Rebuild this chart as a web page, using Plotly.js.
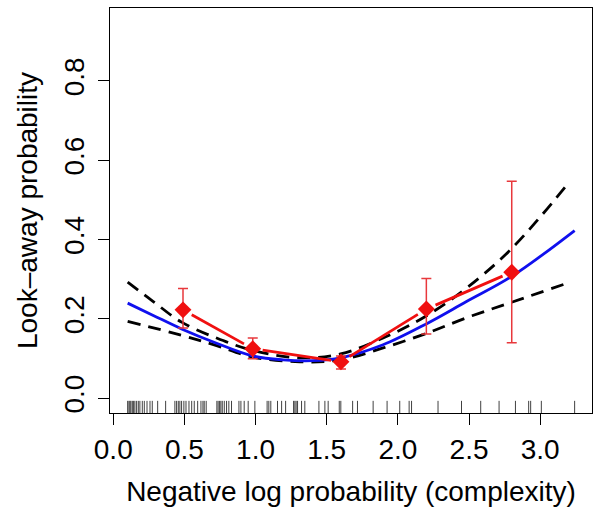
<!DOCTYPE html>
<html>
<head>
<meta charset="utf-8">
<script src="https://cdn.plot.ly/plotly-3.0.1.min.js"></script>
<style>html,body{margin:0;padding:0;background:#fff;}#chart{width:601px;height:525px;}</style>
</head>
<body>
<div id="chart"></div>
<script>
// ---- data ----
const rugX = [0.101,0.110,0.117,0.124,0.134,0.143,0.152,0.164,0.176,0.187,0.204,0.218,0.237,0.258,0.274,0.312,0.368,
  0.433,0.445,0.457,0.468,0.480,0.496,0.511,0.532,0.551,0.569,0.593,0.616,0.630,0.639,0.653,
  0.728,0.737,0.747,0.756,0.766,0.780,0.796,0.812,0.831,0.883,0.897,0.920,0.948,0.995,
  1.081,1.093,1.107,1.154,1.183,1.211,1.267,1.276,1.285,1.295,1.323,1.346,1.445,1.487,1.510,
  1.588,1.599,1.682,1.716,1.826,1.924,2.013,2.079,2.096,2.282,2.447,2.582,2.711,2.826,2.919,2.933,3.008,3.242];

const fitX = [0.101,0.281,0.480,0.726,0.979,1.194,1.404,1.597,1.896,2.196,2.482,2.798,3.242];
const fitY = [0.240,0.209,0.175,0.139,0.107,0.097,0.095,0.102,0.135,0.187,0.244,0.307,0.423];

const upX = [0.101,0.281,0.480,0.726,0.979,1.311,1.597,1.896,2.196,2.482,2.798,3.195];
const upY = [0.293,0.244,0.192,0.152,0.121,0.102,0.112,0.152,0.207,0.278,0.377,0.541];

const loX = [0.101,0.480,0.726,0.979,1.311,1.597,1.896,2.196,2.482,2.798,3.195];
const loY = [0.194,0.159,0.133,0.104,0.092,0.097,0.127,0.163,0.203,0.242,0.291];

const ptX  = [0.49, 0.98, 1.60, 2.20, 2.80];
const ptY  = [0.223, 0.125, 0.092, 0.225, 0.318];
const ptHi = [0.277, 0.152, 0.107, 0.302, 0.547];
const ptLo = [0.177, 0.100, 0.074, 0.162, 0.140];

const xTicks = [0, 0.5, 1, 1.5, 2, 2.5, 3];
const yTicks = [0, 0.2, 0.4, 0.6, 0.8];

// ---- layout geometry ----
const W = 601, H = 525;
const M = {l: 110, r: 9, t: 8, b: 112};
const xRange = [-0.023, 3.364];
const yRange = [-0.037, 0.984];
const pw = W - M.l - M.r, ph = H - M.t - M.b;
const sx = pw / (xRange[1] - xRange[0]);
const sy = ph / (yRange[1] - yRange[0]);

// type="b" style: line segments with gaps around each point
const gap = 10;
const segX = [], segY = [];
for (let i = 0; i < ptX.length - 1; i++) {
  const dx = (ptX[i+1] - ptX[i]) * sx, dy = (ptY[i+1] - ptY[i]) * sy;
  const L = Math.sqrt(dx*dx + dy*dy);
  const t0 = gap / L, t1 = 1 - gap / L;
  if (t1 > t0) {
    segX.push(ptX[i] + t0*(ptX[i+1]-ptX[i]), ptX[i] + t1*(ptX[i+1]-ptX[i]), null);
    segY.push(ptY[i] + t0*(ptY[i+1]-ptY[i]), ptY[i] + t1*(ptY[i+1]-ptY[i]), null);
  }
}

const font = "Liberation Sans, Arial, Helvetica, sans-serif";

const traces = [
  {x: upX, y: upY, mode: 'lines', line: {color: '#000', width: 2.8, dash: '13px,8px', shape: 'spline', smoothing: 1}, hoverinfo: 'skip'},
  {x: loX, y: loY, mode: 'lines', line: {color: '#000', width: 2.8, dash: '13px,8px', shape: 'spline', smoothing: 1}, hoverinfo: 'skip'},
  {x: fitX, y: fitY, mode: 'lines', line: {color: '#1010ee', width: 2.8, shape: 'spline', smoothing: 1}, hoverinfo: 'skip'},
  {x: segX, y: segY, mode: 'lines', line: {color: '#f01010', width: 2.8}, connectgaps: false, hoverinfo: 'skip'},
  {x: ptX, y: ptY, mode: 'markers',
   marker: {symbol: 'diamond', size: 13, color: '#f01010', line: {width: 0}},
   error_y: {type: 'data', symmetric: false,
     array: ptHi.map((v, i) => v - ptY[i]),
     arrayminus: ptLo.map((v, i) => ptY[i] - v),
     color: '#e8383c', thickness: 1.5, width: 5}}
];

const shapes = rugX.map(v => ({type: 'line', xref: 'x', yref: 'paper', x0: v, x1: v, y0: 0, y1: 0.03,
  line: {color: 'rgba(0,0,0,0.75)', width: 1}}));

const layout = {
  width: W, height: H,
  margin: M,
  paper_bgcolor: '#fff', plot_bgcolor: '#fff',
  showlegend: false,
  font: {family: font, color: '#000'},
  shapes: shapes,
  xaxis: {
    range: xRange, tickvals: xTicks, tickformat: '.1f',
    showgrid: false, zeroline: false,
    showline: true, mirror: true, linecolor: '#000', linewidth: 1.3,
    ticks: 'outside', ticklen: 11, tickwidth: 1, tickcolor: '#000',
    tickfont: {family: font, size: 28, color: '#000'},
    ticklabelstandoff: 0,
    title: {text: 'Negative log probability (complexity)', font: {family: font, size: 28, color: '#000'}, standoff: 17}
  },
  yaxis: {
    range: yRange, tickvals: yTicks, tickformat: '.1f', tickangle: -90,
    showgrid: false, zeroline: false,
    showline: true, mirror: true, linecolor: '#000', linewidth: 1.3,
    ticks: 'outside', ticklen: 11, tickwidth: 1, tickcolor: '#000',
    tickfont: {family: font, size: 28, color: '#000'},
    ticklabelstandoff: 3,
    title: {text: 'Look\u2013away probability', font: {family: font, size: 28, color: '#000'}, standoff: 12}
  }
};

Plotly.newPlot('chart', traces, layout, {displayModeBar: false, staticPlot: true});
</script>
</body>
</html>
